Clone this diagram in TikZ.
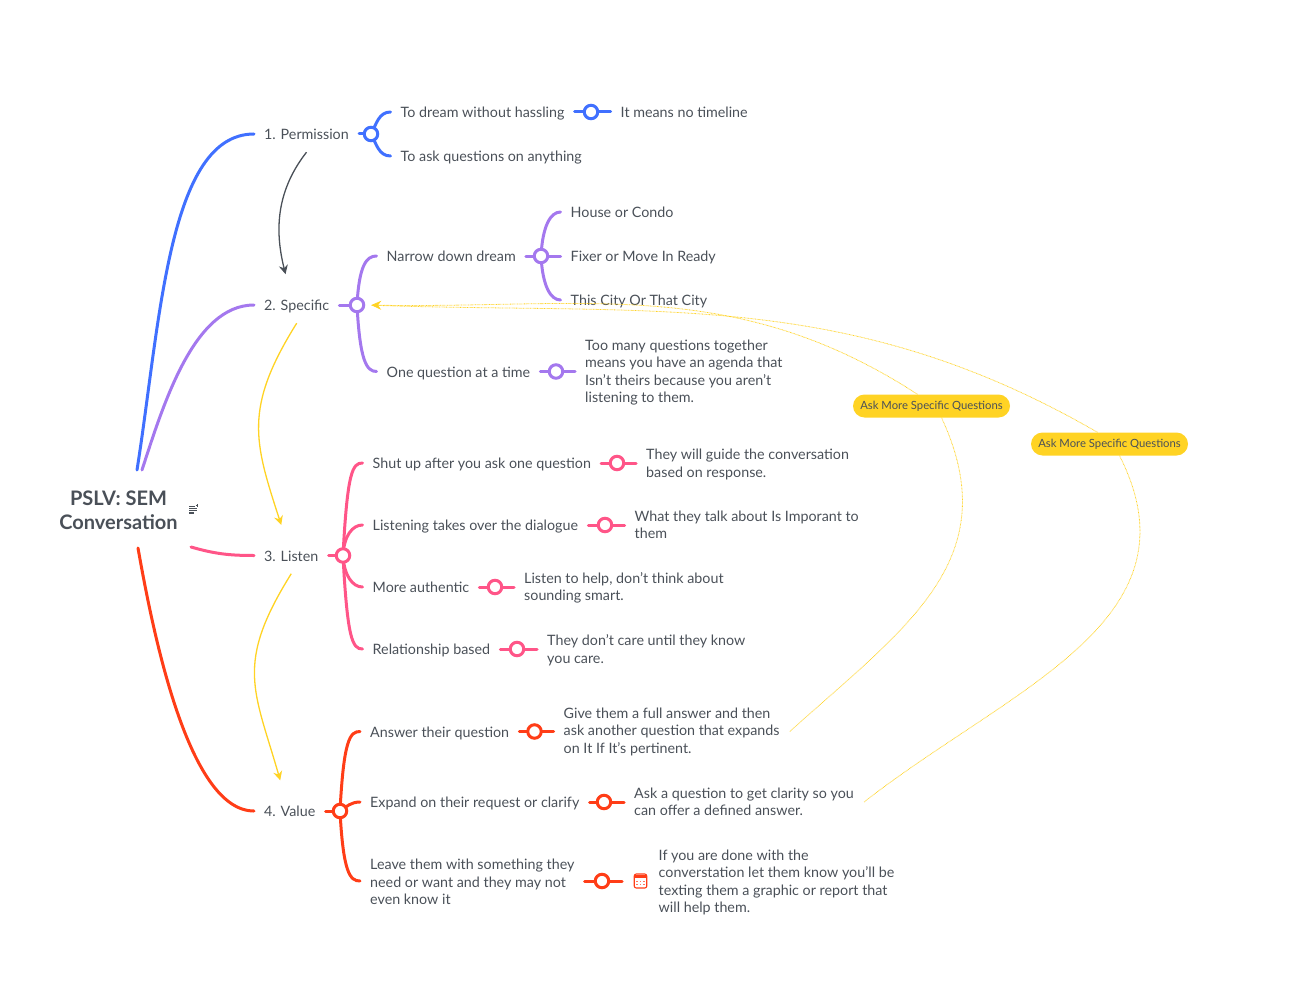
\documentclass[tikz,border=0pt]{standalone}
\usepackage{fontspec}
\setmainfont{Lato}
\usetikzlibrary{arrows.meta,backgrounds}
\definecolor{permblue}{HTML}{4070FF}
\definecolor{specpurple}{HTML}{A478EE}
\definecolor{listenpink}{HTML}{FF5588}
\definecolor{valuered}{HTML}{FF3D17}
\definecolor{relyellow}{HTML}{FFD324}
\definecolor{inkgray}{HTML}{4A5058}
\newcommand{\notetop}{\rule{0pt}{13pt}}
\tikzset{
  topic/.style={font=\fontsize{14.3}{17.5}\selectfont,text=inkgray,inner xsep=10pt,inner ysep=10.5pt,anchor=west,text height=13pt,text depth=2pt},
  note/.style={font=\fontsize{14.3}{17.5}\selectfont,text=inkgray,inner xsep=10pt,inner ysep=0pt,anchor=west,align=left},
  hub/.style={circle,draw=#1,fill=white,line width=3pt,minimum size=13.5pt,inner sep=0pt},
  limb/.style={line width=3pt,line cap=round},
  limbup/.style={out=87,in=180,out distance=#1,in distance=10pt},
  limbdown/.style={out=273,in=180,out distance=#1,in distance=10pt},
  pill/.style={fill=relyellow,rounded corners=11.5pt,minimum width=157pt,minimum height=23pt,inner sep=0pt,font=\fontsize{11.3}{14}\selectfont,text=inkgray},
  relation/.style={draw=relyellow,line width=0.8pt,dash pattern=on 0.7pt off 0.7pt},
  flow/.style={line width=1.3pt,-{Stealth[length=9pt,width=9pt]}}
}
\begin{document}
\begin{tikzpicture}[x=1pt,y=-1pt]
\useasboundingbox (0,0) rectangle (1292,995);

\node (root) [align=center,font=\fontsize{20}{24}\selectfont\bfseries,text=inkgray] at (118.5,510.5) {PSLV: SEM\\Conversation};
\coordinate (rootBlue) at (137,470);
\coordinate (rootPurple) at (142,470);
\coordinate (rootPink) at (191,547);
\coordinate (rootRed) at (138,548);

\node (perm) [topic] at (254,134) {1. Permission};
\node (spec) [topic] at (254,305) {2. Specific};
\node (listen) [topic] at (254,555.5) {3. Listen};
\node (value) [topic] at (254,811) {4. Value};

%1
\node (dream) [topic] at (390.5,112) {To dream without hassling};
\node (anything) [topic] at (390.5,156) {To ask questions on anything};
\node (timeline) [topic] at (610.5,112) {It means no timeline};
\node (permHub) [hub=permblue] at (371,134) {};
\node (dreamHub) [hub=permblue] at (591,112) {};

%2
\node (narrow) [topic] at (376.5,256) {Narrow down dream};
\node (condo) [topic] at (560.5,212) {House or Condo};
\node (fixer) [topic] at (560.5,256) {Fixer or Move In Ready};
\node (city) [topic] at (560.5,300) {This City Or That City};
\node (oneq) [topic] at (376.5,371.5) {One question at a time};
\node (agenda) [note] at (575,371.5) {\notetop Too many questions together\\means you have an agenda that\\Isn't theirs because you aren't\\listening to them.};
\node (specHub) [hub=specpurple] at (357,305) {};
\node (narrowHub) [hub=specpurple] at (541,256) {};
\node (oneqHub) [hub=specpurple] at (556,371.5) {};

%3
\node (shut) [topic] at (362.5,463) {Shut up after you ask one question};
\node (guide) [note] at (636,463) {\notetop They will guide the conversation\\based on response.};
\node (takes) [topic] at (362.5,525) {Listening takes over the dialogue};
\node (talk) [note] at (624.5,525) {What they talk about Is Imporant to\\them};
\node (auth) [topic] at (362.5,587) {More authentic};
\node (smart) [note] at (514,587) {\notetop Listen to help, don't think about\\sounding smart.};
\node (rel) [topic] at (362.5,649) {Relationship based};
\node (care) [note] at (537,649) {\notetop They don't care until they know\\you care.};
\node (listenHub) [hub=listenpink] at (343,555.5) {};
\node (shutHub) [hub=listenpink] at (617,463) {};
\node (takesHub) [hub=listenpink] at (605,525) {};
\node (authHub) [hub=listenpink] at (495,587) {};
\node (relHub) [hub=listenpink] at (517,649) {};

%4
\node (answer) [topic] at (360,731.5) {Answer their question};
\node (full) [note] at (553.5,731.5) {Give them a full answer and then\\ask another question that expands\\on It If It's pertinent.};
\node (expand) [topic] at (360,802) {Expand on their request or clarify};
\node (clarity) [note] at (624,802) {Ask a question to get clarity so you\\can offer a defined answer.};
\node (leave) [note] at (360,881) {\notetop Leave them with something they\\need or want and they may not\\even know it};
\node (done) [note] at (648.5,881) {\notetop If you are done with the\\converstation let them know you'll be\\texting them a graphic or report that\\will help them.};
\node (calendar) [draw=valuered,fill=white,line width=1.1pt,rounded corners=2pt,minimum width=12.5pt,minimum height=14pt,inner sep=0pt] at (640.5,881) {};
\coordinate (leaveEnd) at (622,881);
\node (valueHub) [hub=valuered] at (340,811) {};
\node (answerHub) [hub=valuered] at (534.5,731.5) {};
\node (expandHub) [hub=valuered] at (604,802) {};
\node (leaveHub) [hub=valuered] at (602,881) {};

%calendar icon
\fill [valuered] (634.5,874.5) rectangle (646.5,878.2);
\foreach \px in {637,640.5,644}{
  \fill [valuered!70!white] (\px-0.7,880.5) rectangle (\px+0.7,881.7);
  \fill [valuered!70!white] (\px-0.7,883.5) rectangle (\px+0.7,884.7);
}

%note icon next to the title
\draw [inkgray,line width=1.1pt] (189,506.5) -- (195,506.5) (189,508.7) -- (197,508.7) (189,510.9) -- (197,510.9) (189,513) -- (194,513);
\draw [inkgray,line width=0.8pt] (197,504.3) -- (197,507) (195.7,505.6) -- (198.4,505.6);

\node (pillA) [pill] at (931.5,406) {Ask More Specific Questions};
\node (pillB) [pill] at (1109.5,444) {Ask More Specific Questions};

\begin{scope}[on background layer]
\draw [limb,permblue] (rootBlue) to[out=81,in=180,out distance=149pt,in distance=86pt] (perm.west);
\draw [limb,specpurple] (rootPurple) to[out=72,in=180,out distance=70pt,in distance=60pt] (spec.west);
\draw [limb,listenpink] (rootPink) to[out=-16,in=180] (listen.west);
\draw [limb,valuered] (rootRed) to[out=-80,in=180,out distance=90pt,in distance=65pt] (value.west);

\draw [limb,permblue] (perm.east) -- (permHub);
\draw [limb,permblue] (permHub.center) to[out=62,in=180] (dream.west);
\draw [limb,permblue] (permHub.center) to[out=-62,in=180] (anything.west);
\draw [limb,permblue] (dream.east) -- (timeline.west);

\draw [limb,specpurple] (spec.east) -- (specHub);
\draw [limb,specpurple] (specHub.center) to[limbup=40pt] (narrow.west);
\draw [limb,specpurple] (specHub.center) to[limbdown=56pt] (oneq.west);
\draw [limb,specpurple] (narrow.east) -- (narrowHub);
\draw [limb,specpurple] (narrowHub.center) to[limbup=30pt] (condo.west);
\draw [limb,specpurple] (narrowHub.center) -- (fixer.west);
\draw [limb,specpurple] (narrowHub.center) to[limbdown=30pt] (city.west);
\draw [limb,specpurple] (oneq.east) -- (agenda.west);

\draw [limb,listenpink] (listen.east) -- (listenHub);
\draw [limb,listenpink] (listenHub.center) to[limbup=84pt] (shut.west);
\draw [limb,listenpink] (listenHub.center) to[limbup=20pt] (takes.west);
\draw [limb,listenpink] (listenHub.center) to[limbdown=20pt] (auth.west);
\draw [limb,listenpink] (listenHub.center) to[limbdown=84pt] (rel.west);
\draw [limb,listenpink] (shut.east) -- (guide.west);
\draw [limb,listenpink] (takes.east) -- (talk.west);
\draw [limb,listenpink] (auth.east) -- (smart.west);
\draw [limb,listenpink] (rel.east) -- (care.west);

\draw [limb,valuered] (value.east) -- (valueHub);
\draw [limb,valuered] (valueHub.center) to[limbup=72pt] (answer.west);
\draw [limb,valuered] (valueHub.center) to[out=35,in=180] (expand.west);
\draw [limb,valuered] (valueHub.center) to[limbdown=62pt] (leave.west);
\draw [limb,valuered] (answer.east) -- (full.west);
\draw [limb,valuered] (expand.east) -- (clarity.west);
\draw [limb,valuered] (leave.east) -- (leaveEnd);
\end{scope}

\draw [flow,inkgray,shorten >=13pt] (perm.south) to[out=232,in=104] ([xshift=-8pt]spec.north);
\draw [flow,relyellow,shorten >=13pt] (spec.south) to[out=238,in=108,looseness=1.2] ([xshift=-6pt]listen.north);
\draw [flow,relyellow,shorten >=13pt] (listen.south) to[out=238,in=106,looseness=1.25] ([xshift=-6pt]value.north);

\draw [relation] (full.east) to[out=42,in=-65,looseness=1.15] ([xshift=10pt]pillA.south);
\draw [relation,-{Stealth[length=10pt,width=9pt,fill=relyellow]},shorten >=6pt] ([xshift=-14pt]pillA.north) to[out=147,in=-1] (specHub.east);
\draw [relation] (clarity.east) to[out=38,in=-63,looseness=1.1] ([xshift=10pt]pillB.south);
\draw [relation,shorten >=6pt] ([xshift=-12pt]pillB.north) to[out=150,in=-2] (specHub.east);
\end{tikzpicture}
\end{document}
